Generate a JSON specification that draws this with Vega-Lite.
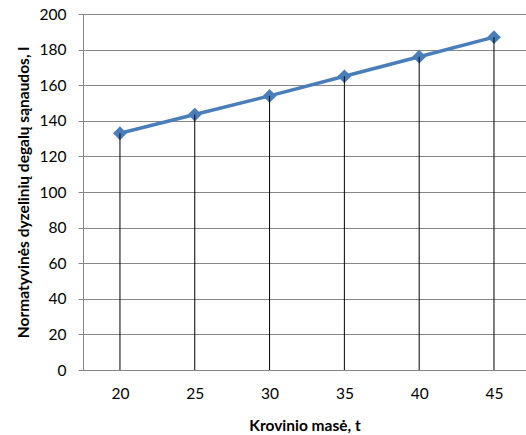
{
  "$schema": "https://vega.github.io/schema/vega-lite/v6.json",
  "autosize": {"type": "none"},
  "width": 443,
  "height": 356,
  "padding": {"left": 83, "top": 14, "right": 0, "bottom": 65},
  "background": "white",
  "config": {"view": {"stroke": null}, "font": "Lato"},
  "data": {"values": [
    {"mase": 20, "sanaudos": 133},
    {"mase": 25, "sanaudos": 143.5},
    {"mase": 30, "sanaudos": 154},
    {"mase": 35, "sanaudos": 165},
    {"mase": 40, "sanaudos": 176},
    {"mase": 45, "sanaudos": 187}
  ]},
  "encoding": {
    "x": {"field": "mase", "type": "quantitative",
      "scale": {"domain": [17.53, 47.14], "nice": false, "zero": false},
      "axis": {"title": "Krovinio masė, t", "values": [20, 25, 30, 35, 40, 45], "grid": false, "ticks": false,
        "domainColor": "#868686", "labelFontSize": 15.5, "labelColor": "#000000", "labelPadding": 16,
        "titleFontSize": 15.5, "titleFontWeight": "bold", "titleColor": "#000000", "titlePadding": 17, "labelFont": "Lato", "titleFont": "Lato"}},
    "y": {"field": "sanaudos", "type": "quantitative",
      "scale": {"domain": [0, 200], "nice": false},
      "axis": {"title": "Normatyvinės dyzelinių degalų sąnaudos, l", "values": [0, 20, 40, 60, 80, 100, 120, 140, 160, 180, 200],
        "gridColor": "#868686", "gridWidth": 1, "domainColor": "#868686", "tickColor": "#868686", "tickSize": 5,
        "labelFontSize": 15.5, "labelColor": "#000000", "labelPadding": 12,
        "titleFontSize": 15.5, "titleFontWeight": "bold", "titleColor": "#000000", "titlePadding": 8, "labelFont": "Lato", "titleFont": "Lato"}}
  },
  "layer": [
    {"mark": {"type": "line", "color": "#4A7EBB", "strokeWidth": 3.5}},
    {"mark": {"type": "point", "shape": "diamond", "filled": true, "color": "#4A7EBB", "size": 190, "opacity": 1}},
    {"mark": {"type": "rule", "color": "#000000", "strokeWidth": 1}, "encoding": {"y2": {"datum": 0}}}
  ]
}
